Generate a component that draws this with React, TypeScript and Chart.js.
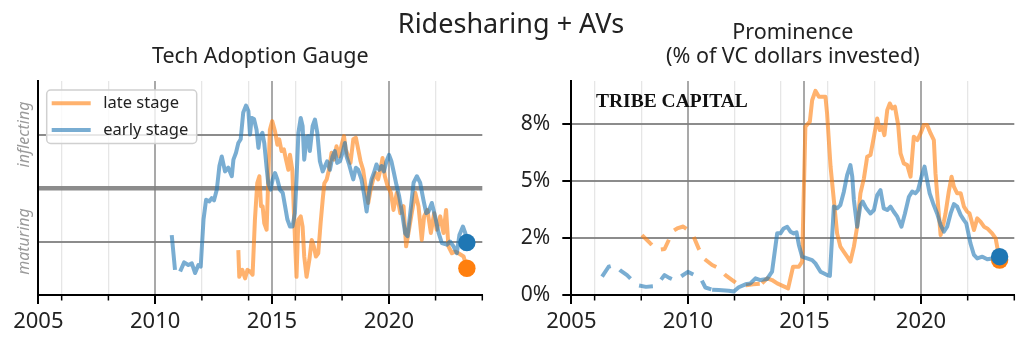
import React, { useEffect, useRef } from 'react';
import { Chart, registerables } from 'chart.js';
Chart.register(...registerables);

const FONT = "'Noto Sans', sans-serif";
const TEXT = '#222222';

const mainTitle = 'Ridesharing + AVs';
const gaugeTitle = 'Tech Adoption Gauge';
const prominenceTitle = ['Prominence', '(% of VC dollars invested)'];
const watermark = 'TRIBE CAPITAL';
const seriesLabels = ['late stage', 'early stage'];
const gaugeLabelValues = [1, 3];
const gaugeLabelTexts = ['maturing', 'inflecting'];
const gaugeGridValues = [1, 2, 3];
const xMajorYears = [2005, 2010, 2015, 2020];
const xMinorYears = [2006, 2008, 2012, 2014, 2016, 2018, 2022, 2024];
const promTickValues = [0, 8 / 3, 16 / 3, 8];

// Tech adoption gauge (0 = bottom, 2 = middle line, 4 = top)
const gaugeEarlyX = [2010.71, 2010.85, 2010.96, 2011.07, 2011.24, 2011.42, 2011.57, 2011.71, 2011.85, 2011.95, 2012.07, 2012.18, 2012.32, 2012.42, 2012.52, 2012.64, 2012.75, 2012.85, 2012.99, 2013.13, 2013.28, 2013.35, 2013.46, 2013.56, 2013.66, 2013.77, 2013.89, 2013.99, 2014.06, 2014.13, 2014.23, 2014.34, 2014.42, 2014.49, 2014.59, 2014.67, 2014.77, 2014.84, 2014.94, 2015.03, 2015.13, 2015.23, 2015.34, 2015.46, 2015.56, 2015.66, 2015.77, 2015.88, 2015.98, 2016.05, 2016.13, 2016.23, 2016.31, 2016.38, 2016.48, 2016.55, 2016.62, 2016.74, 2016.84, 2016.94, 2017.05, 2017.17, 2017.27, 2017.36, 2017.48, 2017.59, 2017.69, 2017.79, 2017.91, 2018.02, 2018.12, 2018.19, 2018.30, 2018.40, 2018.48, 2018.59, 2018.69, 2018.83, 2018.93, 2019.05, 2019.15, 2019.26, 2019.36, 2019.47, 2019.59, 2019.69, 2019.79, 2019.90, 2020.01, 2020.11, 2020.21, 2020.33, 2020.44, 2020.58, 2020.70, 2020.80, 2020.91, 2021.06, 2021.20, 2021.34, 2021.48, 2021.60, 2021.70, 2021.84, 2021.98, 2022.13, 2022.27, 2022.48, 2022.62, 2022.77, 2022.91, 2023.02, 2023.17, 2023.27, 2023.34];
const gaugeEarlyY = [1.12, 0.47, null, 0.44, 0.61, 0.56, 0.59, 0.41, 0.56, 0.53, 1.41, 1.78, 1.75, 1.81, 1.77, 1.97, 2.41, 2.59, 2.31, 2.38, 2.22, 2.53, 2.66, 2.84, 2.91, 3.41, 3.54, 3.44, 3.0, 3.31, 3.29, 3.09, 2.75, 2.97, 3.03, 2.84, 2.38, 2.09, 1.97, 2.16, 2.28, 2.16, 1.97, 1.91, 1.66, 1.41, 1.28, 1.28, 1.53, 2.16, 3.03, 3.31, 3.16, 2.53, 2.94, 2.97, 2.69, 3.16, 3.28, 3.03, 2.5, 2.31, 2.41, 2.5, 2.34, 2.59, 2.69, 2.47, 2.5, 2.66, 2.84, 2.59, 2.44, 2.28, 2.16, 2.38, 2.34, 2.16, 1.91, 1.56, 1.91, 2.16, 2.28, 2.44, 2.34, 2.41, 2.31, 2.5, 2.62, 2.5, 2.3, 2.05, 1.85, 1.5, 1.15, 1.1, 1.5, 2.1, 2.22, 2.1, 1.78, 1.53, 1.56, 1.72, 1.47, 1.16, 0.97, 0.94, 1.0, 0.91, 0.78, 1.12, 1.28, 1.16, 0.98];

const gaugeLateX = [2013.56, 2013.60, 2013.73, 2013.85, 2013.95, 2014.06, 2014.17, 2014.27, 2014.37, 2014.46, 2014.53, 2014.60, 2014.67, 2014.77, 2014.84, 2014.91, 2015.01, 2015.13, 2015.23, 2015.31, 2015.41, 2015.51, 2015.60, 2015.70, 2015.77, 2015.87, 2015.95, 2016.05, 2016.13, 2016.23, 2016.31, 2016.38, 2016.48, 2016.60, 2016.70, 2016.79, 2016.88, 2016.98, 2017.08, 2017.17, 2017.24, 2017.34, 2017.44, 2017.55, 2017.65, 2017.76, 2017.88, 2017.98, 2018.08, 2018.16, 2018.26, 2018.36, 2018.48, 2018.59, 2018.69, 2018.79, 2018.90, 2019.02, 2019.12, 2019.22, 2019.33, 2019.44, 2019.54, 2019.64, 2019.73, 2019.83, 2019.93, 2020.09, 2020.20, 2020.34, 2020.49, 2020.63, 2020.74, 2020.84, 2020.98, 2021.13, 2021.27, 2021.41, 2021.51, 2021.65, 2021.80, 2021.94, 2022.05, 2022.20, 2022.34, 2022.45, 2022.55, 2022.70, 2022.84, 2022.98, 2023.20, 2023.34];
const gaugeLateY = [0.84, 0.34, 0.47, 0.31, 0.47, 0.44, 0.38, 1.41, 2.09, 2.22, 1.66, 1.66, 1.34, 1.22, 2.16, 3.09, 3.25, 3.06, 2.81, 2.91, 2.69, 2.72, 2.53, 2.34, 2.62, 2.34, 1.41, 0.34, 1.41, 1.47, 1.28, 0.72, 0.34, 0.66, 1.03, 0.91, 0.72, 0.78, 1.34, 1.78, 2.09, 2.16, 2.34, 2.66, 2.53, 2.78, 2.59, 2.81, 2.97, 2.72, 2.59, 2.47, 2.91, 2.94, 2.72, 2.5, 2.34, 1.97, 1.72, 1.97, 2.16, 2.28, 2.16, 2.34, 2.56, 2.22, 2.06, 1.91, 1.59, 1.91, 1.53, 1.66, 0.91, 1.16, 1.53, 1.91, 1.66, 1.03, 1.47, 1.59, 1.16, 1.53, 1.22, 1.47, 1.16, 1.59, 0.91, 0.78, 0.81, 0.78, 0.72, 0.5];

// Prominence (% of VC dollars invested)
const promEarlyX = [2006.32, 2006.6, 2006.85, 2007.1, 2007.39, 2007.65, 2007.89, 2008.2, 2008.6, 2008.8, 2009.0, 2009.2, 2009.46, 2009.75, 2010.0, 2010.25, 2010.54, 2010.75, 2011.04, 2011.32, 2011.75, 2011.97, 2012.18, 2012.47, 2012.68, 2012.9, 2013.11, 2013.4, 2013.61, 2013.83, 2013.97, 2014.11, 2014.26, 2014.4, 2014.54, 2014.66, 2014.76, 2014.9, 2015.11, 2015.33, 2015.47, 2015.69, 2015.97, 2016.09, 2016.26, 2016.4, 2016.54, 2016.69, 2016.83, 2016.97, 2017.05, 2017.12, 2017.26, 2017.4, 2017.5, 2017.65, 2017.83, 2017.98, 2018.12, 2018.26, 2018.4, 2018.55, 2018.69, 2018.83, 2018.98, 2019.16, 2019.31, 2019.48, 2019.62, 2019.76, 2019.87, 2020.02, 2020.15, 2020.26, 2020.37, 2020.52, 2020.69, 2020.84, 2020.98, 2021.12, 2021.27, 2021.41, 2021.55, 2021.7, 2021.84, 2021.94, 2022.12, 2022.27, 2022.41, 2022.63, 2022.84, 2023.05, 2023.2, 2023.37];
const promEarlyY = [0.86, 1.32, 1.4, 1.15, 0.93, 0.65, 0.45, 0.38, 0.42, 0.65, 0.93, 0.8, 0.68, 0.9, 1.08, 0.95, 0.8, 0.35, 0.25, 0.23, 0.2, 0.16, 0.36, 0.5, 0.54, 0.78, 0.7, 0.75, 1.09, 2.88, 2.88, 3.11, 3.19, 2.96, 2.88, 2.93, 2.34, 1.79, 1.71, 1.63, 1.48, 1.09, 0.93, 0.89, 4.13, 4.05, 4.2, 4.83, 5.6, 6.07, 5.53, 4.44, 3.19, 4.2, 4.36, 4.05, 3.81, 3.97, 4.67, 4.9, 4.05, 3.97, 4.13, 3.89, 3.66, 3.19, 3.81, 4.59, 4.83, 4.75, 4.9, 5.53, 6.0, 5.37, 4.75, 4.28, 3.81, 3.27, 2.96, 3.19, 3.81, 4.25, 4.13, 3.74, 3.5, 3.35, 2.41, 1.87, 1.71, 1.79, 1.67, 1.71, 1.7, 1.79];

const promLateX = [2008.03, 2008.39, 2008.7, 2009.0, 2009.18, 2009.32, 2009.54, 2009.8, 2010.05, 2010.25, 2010.46, 2010.68, 2011.04, 2011.32, 2011.61, 2011.9, 2012.18, 2012.5, 2012.8, 2013.18, 2013.4, 2013.61, 2013.83, 2014.04, 2014.3, 2014.51, 2014.76, 2014.9, 2015.04, 2015.23, 2015.33, 2015.47, 2015.62, 2015.76, 2015.9, 2015.97, 2016.12, 2016.26, 2016.4, 2016.54, 2016.69, 2016.83, 2016.97, 2017.12, 2017.26, 2017.4, 2017.55, 2017.69, 2017.83, 2017.98, 2018.12, 2018.23, 2018.33, 2018.43, 2018.55, 2018.66, 2018.76, 2018.88, 2019.02, 2019.12, 2019.26, 2019.41, 2019.55, 2019.69, 2019.84, 2019.98, 2020.12, 2020.26, 2020.41, 2020.55, 2020.62, 2020.73, 2020.84, 2020.98, 2021.05, 2021.19, 2021.31, 2021.41, 2021.55, 2021.7, 2021.84, 2021.98, 2022.08, 2022.27, 2022.41, 2022.55, 2022.7, 2022.84, 2023.05, 2023.2, 2023.37];
const promLateY = [2.8, 2.41, 2.1, 2.15, 2.57, 2.96, 3.11, 3.2, 3.0, 2.72, 2.18, 1.71, 1.4, 1.25, 0.93, 0.7, 0.47, 0.45, 0.5, 0.54, 0.78, 0.7, 0.54, 0.44, 0.31, 1.32, 1.32, 1.56, 7.86, 8.1, 9.1, 9.54, 9.26, 9.26, 9.26, 8.49, 5.99, 4.44, 2.88, 2.26, 2.02, 1.79, 1.56, 2.26, 3.19, 4.75, 5.45, 6.46, 6.54, 7.4, 8.25, 7.71, 7.86, 7.47, 8.64, 8.95, 8.72, 8.8, 7.94, 6.62, 6.15, 6.07, 5.53, 7.4, 7.24, 7.55, 7.94, 7.94, 7.55, 7.24, 5.68, 4.2, 2.8, 3.43, 3.81, 4.83, 5.53, 5.06, 4.75, 4.75, 4.13, 3.89, 3.81, 3.04, 3.58, 3.43, 3.19, 3.11, 2.88, 2.65, 1.63];

// years before which the prominence series are shown dashed
const promEarlyDashedBefore = 2011.0;
const promLateDashedBefore = 2013.0;

const LATE_LINE = 'rgba(255,127,14,0.6)';
const EARLY_LINE = 'rgba(31,119,180,0.6)';
const LATE_DOT = '#ff7f0e';
const EARLY_DOT = '#1f77b4';
const LINE_W = 4;

const toPoints = (xs: number[], ys: (number | null)[]) => xs.map((x, i) => ({ x, y: ys[i] }));
const lastPoint = (xs: number[], ys: (number | null)[]) => [{ x: xs[xs.length - 1], y: ys[ys.length - 1] }];

function lineSet(label: string, xs: number[], ys: (number | null)[], color: string, order: number, dashedBefore?: number) {
  const ds: any = {
    label,
    data: toPoints(xs, ys),
    borderColor: color,
    backgroundColor: color,
    borderWidth: LINE_W,
    pointRadius: 0,
    pointHoverRadius: 0,
    tension: 0,
    spanGaps: false,
    borderJoinStyle: 'round',
    borderCapStyle: 'butt',
    order,
  };
  if (dashedBefore !== undefined) {
    ds.segment = { borderDash: (c: any) => (c.p0.parsed.x < dashedBefore ? [14, 11] : undefined) };
  }
  return ds;
}

function dotSet(label: string, xs: number[], ys: (number | null)[], color: string, order: number) {
  return {
    label,
    data: lastPoint(xs, ys),
    showLine: false,
    pointRadius: 8.7,
    pointHoverRadius: 8.7,
    pointBackgroundColor: color,
    pointBorderWidth: 0,
    borderColor: color,
    order,
  };
}

function xScale() {
  const all = [...xMajorYears, ...xMinorYears].sort((a, b) => a - b);
  const uniq = all.filter((v, i) => all.indexOf(v) === i);
  return {
    type: 'linear',
    min: 2005,
    max: 2024,
    afterBuildTicks: (s: any) => { s.ticks = uniq.map((v) => ({ value: v })); },
    afterFit: (s: any) => { s.height = 46; },
    ticks: {
      autoSkip: false,
      maxRotation: 0,
      minRotation: 0,
      padding: 5,
      color: TEXT,
      font: { family: FONT, size: 22 },
      callback: (v: number) => (xMajorYears.includes(v) ? String(v) : ''),
    },
    grid: {
      color: (c: any) => {
        const v = c.tick && c.tick.value;
        if (v === 2005 || v === 2024) return 'rgba(0,0,0,0)';
        return xMajorYears.includes(v) ? 'rgba(140,140,140,0.75)' : 'rgba(200,200,200,0.45)';
      },
      lineWidth: (c: any) => (c.tick && xMajorYears.includes(c.tick.value) ? 2 : 1.3),
      tickColor: (c: any) => (c.tick && xMajorYears.includes(c.tick.value) ? '#000' : 'rgba(0,0,0,0)'),
      tickLength: 9,
      tickWidth: 2,
    },
    border: { display: true, color: '#000', width: 2 },
  };
}

const minorTicksPlugin = {
  id: 'minorTicks',
  afterDraw(chart: any) {
    const { ctx, scales, chartArea } = chart;
    const x = scales.x;
    ctx.save();
    ctx.strokeStyle = '#000';
    ctx.lineWidth = 1.5;
    xMinorYears.forEach((v) => {
      if (xMajorYears.includes(v)) return;
      const px = x.getPixelForValue(v);
      ctx.beginPath();
      ctx.moveTo(px, chartArea.bottom);
      ctx.lineTo(px, chartArea.bottom + 5.5);
      ctx.stroke();
    });
    ctx.restore();
  },
};

function GaugeChart() {
  const ref = useRef<HTMLCanvasElement | null>(null);
  useEffect(() => {
    if (!ref.current) return;
    const textPlugin = {
      id: 'gaugeTexts',
      afterDraw(chart: any) {
        const { ctx, chartArea, scales } = chart;
        ctx.save();
        ctx.fillStyle = TEXT;
        ctx.textAlign = 'center';
        ctx.textBaseline = 'alphabetic';
        ctx.font = `27px ${FONT}`;
        ctx.fillText(mainTitle, 511, 33.3);
        ctx.font = `21.5px ${FONT}`;
        ctx.fillText(gaugeTitle, (chartArea.left + chartArea.right) / 2, 63.3);
        // rotated level labels
        ctx.fillStyle = '#9a9a9a';
        ctx.font = `italic 16px ${FONT}`;
        ctx.textBaseline = 'middle';
        gaugeLabelValues.forEach((v, i) => {
          const py = scales.y.getPixelForValue(v);
          ctx.save();
          ctx.translate(chartArea.left - 14, py);
          ctx.rotate(-Math.PI / 2);
          ctx.fillText(gaugeLabelTexts[i], 0, 0);
          ctx.restore();
        });
        ctx.restore();
      },
      afterDatasetsDraw(chart: any) {
        const { ctx, chartArea } = chart;
        const bx = chartArea.left + 8.4;
        const by = chartArea.top + 9;
        const bw = 150;
        const bh = 53.5;
        ctx.save();
        ctx.beginPath();
        const r = 4;
        ctx.moveTo(bx + r, by);
        ctx.arcTo(bx + bw, by, bx + bw, by + bh, r);
        ctx.arcTo(bx + bw, by + bh, bx, by + bh, r);
        ctx.arcTo(bx, by + bh, bx, by, r);
        ctx.arcTo(bx, by, bx + bw, by, r);
        ctx.closePath();
        ctx.fillStyle = 'rgba(255,255,255,0.8)';
        ctx.fill();
        ctx.strokeStyle = '#d0d0d0';
        ctx.lineWidth = 1.5;
        ctx.stroke();
        const colors = [LATE_LINE, EARLY_LINE];
        seriesLabels.forEach((lab, i) => {
          const cy = by + 13.3 + i * 26.7;
          ctx.strokeStyle = colors[i];
          ctx.lineWidth = LINE_W;
          ctx.beginPath();
          ctx.moveTo(bx + 5, cy);
          ctx.lineTo(bx + 44, cy);
          ctx.stroke();
          ctx.fillStyle = TEXT;
          ctx.font = `16.5px ${FONT}`;
          ctx.textAlign = 'left';
          ctx.textBaseline = 'middle';
          ctx.fillText(lab, bx + 56.6, cy);
        });
        ctx.restore();
      },
    };
    const chart = new Chart(ref.current, {
      type: 'line',
      data: {
        datasets: [
          dotSet(seriesLabels[1], gaugeEarlyX, gaugeEarlyY, EARLY_DOT, 0),
          dotSet(seriesLabels[0], gaugeLateX, gaugeLateY, LATE_DOT, 1),
          lineSet(seriesLabels[1], gaugeEarlyX, gaugeEarlyY, EARLY_LINE, 2),
          lineSet(seriesLabels[0], gaugeLateX, gaugeLateY, LATE_LINE, 3),
        ],
      },
      options: {
        animation: false,
        responsive: false,
        devicePixelRatio: 1,
        events: [],
        layout: { padding: { left: 0, right: 1024 - 482.3, top: 81, bottom: 0 } },
        plugins: { legend: { display: false }, tooltip: { enabled: false }, title: { display: false } },
        scales: {
          x: xScale() as any,
          y: {
            type: 'linear',
            min: 0,
            max: 4,
            afterBuildTicks: (s: any) => { s.ticks = gaugeGridValues.map((v) => ({ value: v })); },
            afterFit: (s: any) => { s.width = 38.3; },
            ticks: { display: false },
            grid: {
              color: 'rgba(128,128,128,0.9)',
              lineWidth: (c: any) => (c.tick && c.tick.value === 2 ? 4.5 : 2),
              drawTicks: false,
            },
            border: { display: true, color: '#000', width: 2 },
          },
        },
      },
      plugins: [textPlugin, minorTicksPlugin],
    } as any);
    return () => chart.destroy();
  }, []);
  return <canvas ref={ref} width={1024} height={341} style={{ position: 'absolute', left: 0, top: 0 }} />;
}

function ProminenceChart() {
  const ref = useRef<HTMLCanvasElement | null>(null);
  useEffect(() => {
    if (!ref.current) return;
    const textPlugin = {
      id: 'promTexts',
      afterDraw(chart: any) {
        const { ctx, chartArea } = chart;
        ctx.save();
        ctx.fillStyle = TEXT;
        ctx.textAlign = 'center';
        ctx.textBaseline = 'alphabetic';
        ctx.font = `21.5px ${FONT}`;
        const cx = (chartArea.left + chartArea.right) / 2;
        ctx.fillText(prominenceTitle[0], cx, 39.3);
        ctx.fillText(prominenceTitle[1], cx, 63.3);
        ctx.textAlign = 'left';
        ctx.fillStyle = '#111';
        ctx.font = `bold 19.5px 'Liberation Serif', serif`;
        ctx.fillText(watermark, chartArea.left + 24.7, chartArea.top + 26);
        ctx.restore();
      },
    };
    const chart = new Chart(ref.current, {
      type: 'line',
      data: {
        datasets: [
          dotSet(seriesLabels[1], promEarlyX, promEarlyY, EARLY_DOT, 0),
          dotSet(seriesLabels[0], promLateX, promLateY, LATE_DOT, 1),
          lineSet(seriesLabels[1], promEarlyX, promEarlyY, EARLY_LINE, 2, promEarlyDashedBefore),
          lineSet(seriesLabels[0], promLateX, promLateY, LATE_LINE, 3, promLateDashedBefore),
        ],
      },
      options: {
        animation: false,
        responsive: false,
        devicePixelRatio: 1,
        events: [],
        layout: { padding: { left: 0, right: 512 - 502.3, top: 81, bottom: 0 } },
        plugins: { legend: { display: false }, tooltip: { enabled: false }, title: { display: false } },
        scales: {
          x: xScale() as any,
          y: {
            type: 'linear',
            min: 0,
            max: 10,
            afterBuildTicks: (s: any) => { s.ticks = promTickValues.map((v) => ({ value: v })); },
            afterFit: (s: any) => { s.width = 59.3; },
            ticks: {
              padding: 12,
              color: TEXT,
              font: { family: FONT, size: 21 },
              callback: (v: number) => `${Math.floor(v + 1e-9)}%`,
            },
            grid: {
              color: (c: any) => (c.tick && c.tick.value === 0 ? 'rgba(0,0,0,0)' : 'rgba(128,128,128,0.9)'),
              lineWidth: 2,
              tickColor: '#000',
              tickLength: 9,
              tickWidth: 2,
            },
            border: { display: true, color: '#000', width: 2 },
          },
        },
      },
      plugins: [textPlugin, minorTicksPlugin],
    } as any);
    return () => chart.destroy();
  }, []);
  return <canvas ref={ref} width={512} height={341} style={{ position: 'absolute', left: 512, top: 0 }} />;
}

export default function App() {
  return (
    <div style={{ position: 'absolute', left: 0, top: 0, width: 1024, height: 341, background: '#fff', overflow: 'hidden' }}>
      <GaugeChart />
      <ProminenceChart />
    </div>
  );
}
